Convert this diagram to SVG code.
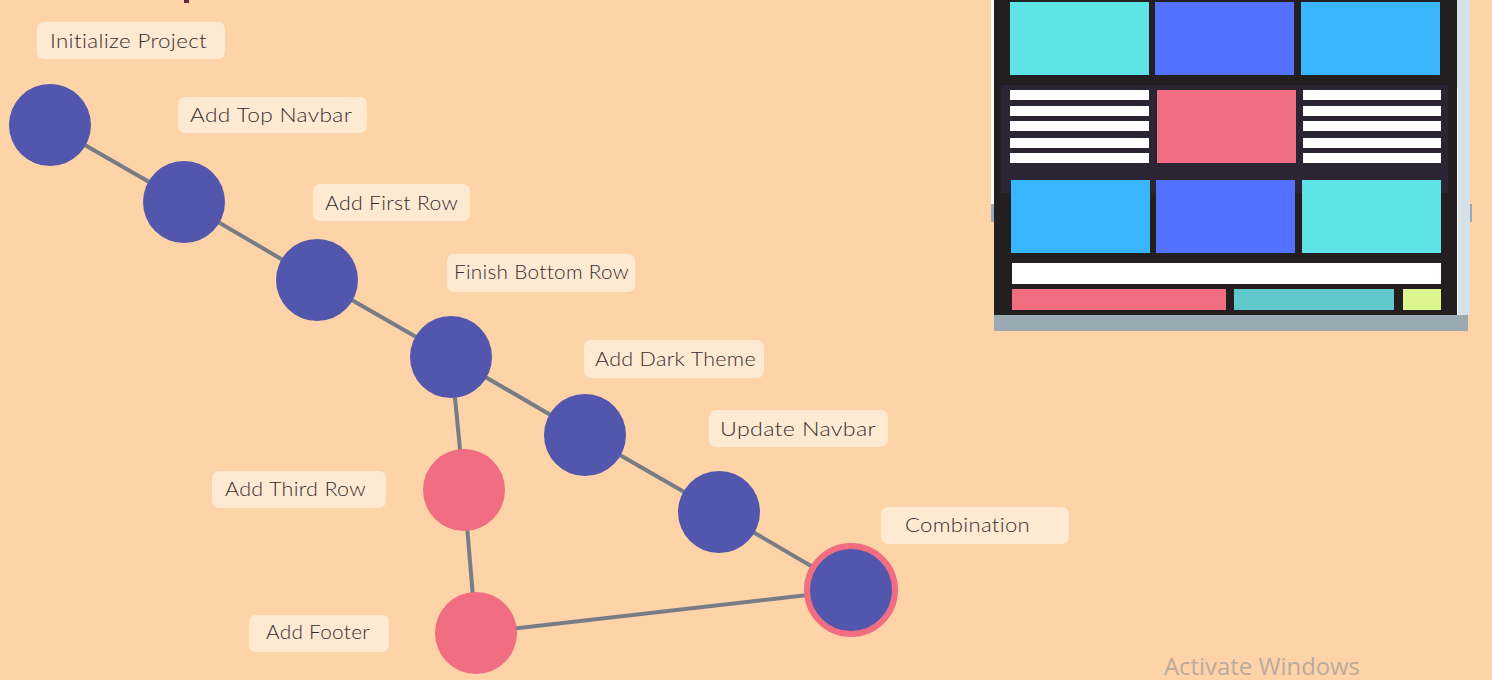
<svg xmlns="http://www.w3.org/2000/svg" width="1492" height="680" viewBox="0 0 1492 680">
<style>
.lbl rect{fill:#fee9d3}
.lbl text{font-family:"Lato","Open Sans",sans-serif;font-size:20px;font-weight:300;fill:#352e2e;letter-spacing:0.3px}
.edge{stroke:#777c86;stroke-width:4;fill:none}
.blue{fill:#5356ad}
.pink{fill:#f06d82}
</style>
<rect width="1492" height="680" fill="#fed3a7"/>
<rect x="184" y="0" width="5" height="3" fill="#6b2832"/>

<g id="mockup">
<rect x="991" y="0" width="4" height="204" fill="#ffffff"/>
<rect x="991" y="204" width="4" height="18" fill="#9aaab3"/>
<rect x="1470" y="204" width="2" height="18" fill="#9aaab3"/>
<rect x="1457" y="0" width="13" height="315" fill="#d6e1e8"/>
<rect x="1456" y="88" width="2" height="227" fill="#ffffff"/>
<rect x="994" y="0" width="463" height="315" fill="#231f20"/>
<rect x="994" y="315" width="474" height="16" fill="#9aaab3"/>
<rect x="1010" y="2" width="139" height="73" fill="#5ee3e6"/>
<rect x="1155" y="2" width="139" height="73" fill="#5271ff"/>
<rect x="1301" y="2" width="139" height="73" fill="#38b6ff"/>
<rect x="1001" y="85" width="447" height="108" fill="#2b2432"/>
<g fill="#ffffff">
<rect x="1010" y="90" width="139" height="10"/>
<rect x="1010" y="106" width="139" height="10"/>
<rect x="1010" y="121" width="139" height="10"/>
<rect x="1010" y="138" width="139" height="10"/>
<rect x="1010" y="153" width="139" height="10"/>
<rect x="1303" y="90" width="138" height="10"/>
<rect x="1303" y="106" width="138" height="10"/>
<rect x="1303" y="121" width="138" height="10"/>
<rect x="1303" y="138" width="138" height="10"/>
<rect x="1303" y="153" width="138" height="10"/>
</g>
<rect x="1157" y="90" width="139" height="73" fill="#f06d82"/>
<rect x="1011" y="180" width="139" height="73" fill="#38b6ff"/>
<rect x="1156" y="180" width="139" height="73" fill="#5271ff"/>
<rect x="1302" y="180" width="139" height="73" fill="#5ee3e6"/>
<rect x="1012" y="263" width="429" height="21" fill="#ffffff"/>
<rect x="1012" y="289" width="214" height="21" fill="#f06d82"/>
<rect x="1234" y="289" width="160" height="21" fill="#5ec8cb"/>
<rect x="1403" y="289" width="38" height="21" fill="#dcf58f"/>
</g>

<g id="connectors">
<line class="edge" x1="50" y1="125" x2="184" y2="202"/>
<line class="edge" x1="184" y1="202" x2="317" y2="280"/>
<line class="edge" x1="317" y1="280" x2="451" y2="357"/>
<line class="edge" x1="451" y1="357" x2="585" y2="435"/>
<line class="edge" x1="585" y1="435" x2="719" y2="512"/>
<line class="edge" x1="719" y1="512" x2="852" y2="590"/>
<line class="edge" x1="451" y1="357" x2="464" y2="490"/>
<line class="edge" x1="464" y1="490" x2="476" y2="633"/>
<line class="edge" x1="476" y1="633" x2="852" y2="590"/>
</g>

<g id="n1"><circle class="blue" cx="50" cy="125" r="41"/></g>
<g id="n2"><circle class="blue" cx="184" cy="202" r="41"/></g>
<g id="n3"><circle class="blue" cx="317" cy="280" r="41"/></g>
<g id="n4"><circle class="blue" cx="451" cy="357" r="41"/></g>
<g id="n5"><circle class="blue" cx="585" cy="435" r="41"/></g>
<g id="n6"><circle class="blue" cx="719" cy="512" r="41"/></g>
<g id="n7"><circle class="blue" cx="851" cy="590" r="44" stroke="#f06d82" stroke-width="6"/></g>
<g id="n8"><circle class="pink" cx="464" cy="490" r="41"/></g>
<g id="n9"><circle class="pink" cx="476" cy="633" r="41"/></g>

<g id="label-init" class="lbl"><rect x="37" y="22" width="188" height="37" rx="7"/><text x="50" y="48" textLength="157" lengthAdjust="spacingAndGlyphs">Initialize Project</text></g>
<g id="label-topnav" class="lbl"><rect x="178" y="97" width="189" height="36" rx="7"/><text x="190" y="122" textLength="162" lengthAdjust="spacingAndGlyphs">Add Top Navbar</text></g>
<g id="label-firstrow" class="lbl"><rect x="313" y="184" width="157" height="37" rx="7"/><text x="325" y="210" textLength="133" lengthAdjust="spacingAndGlyphs">Add First Row</text></g>
<g id="label-bottomrow" class="lbl"><rect x="447" y="254" width="188" height="38" rx="7"/><text x="454" y="279" textLength="175" lengthAdjust="spacingAndGlyphs">Finish Bottom Row</text></g>
<g id="label-dark" class="lbl"><rect x="584" y="340" width="180" height="38" rx="7"/><text x="595" y="366" textLength="161" lengthAdjust="spacingAndGlyphs">Add Dark Theme</text></g>
<g id="label-update" class="lbl"><rect x="709" y="410" width="179" height="37" rx="7"/><text x="720" y="436" textLength="156" lengthAdjust="spacingAndGlyphs">Update Navbar</text></g>
<g id="label-combo" class="lbl"><rect x="881" y="507" width="188" height="37" rx="7"/><text x="905" y="532" textLength="125" lengthAdjust="spacingAndGlyphs">Combination</text></g>
<g id="label-third" class="lbl"><rect x="212" y="471" width="174" height="37" rx="7"/><text x="225" y="496" textLength="141" lengthAdjust="spacingAndGlyphs">Add Third Row</text></g>
<g id="label-footer" class="lbl"><rect x="249" y="615" width="140" height="37" rx="7"/><text x="266" y="639" textLength="104" lengthAdjust="spacingAndGlyphs">Add Footer</text></g>

<text x="1164" y="675" font-family="'Open Sans','Noto Sans',sans-serif" font-size="24" fill="#b9ab9e" textLength="196" lengthAdjust="spacingAndGlyphs">Activate Windows</text>
</svg>
